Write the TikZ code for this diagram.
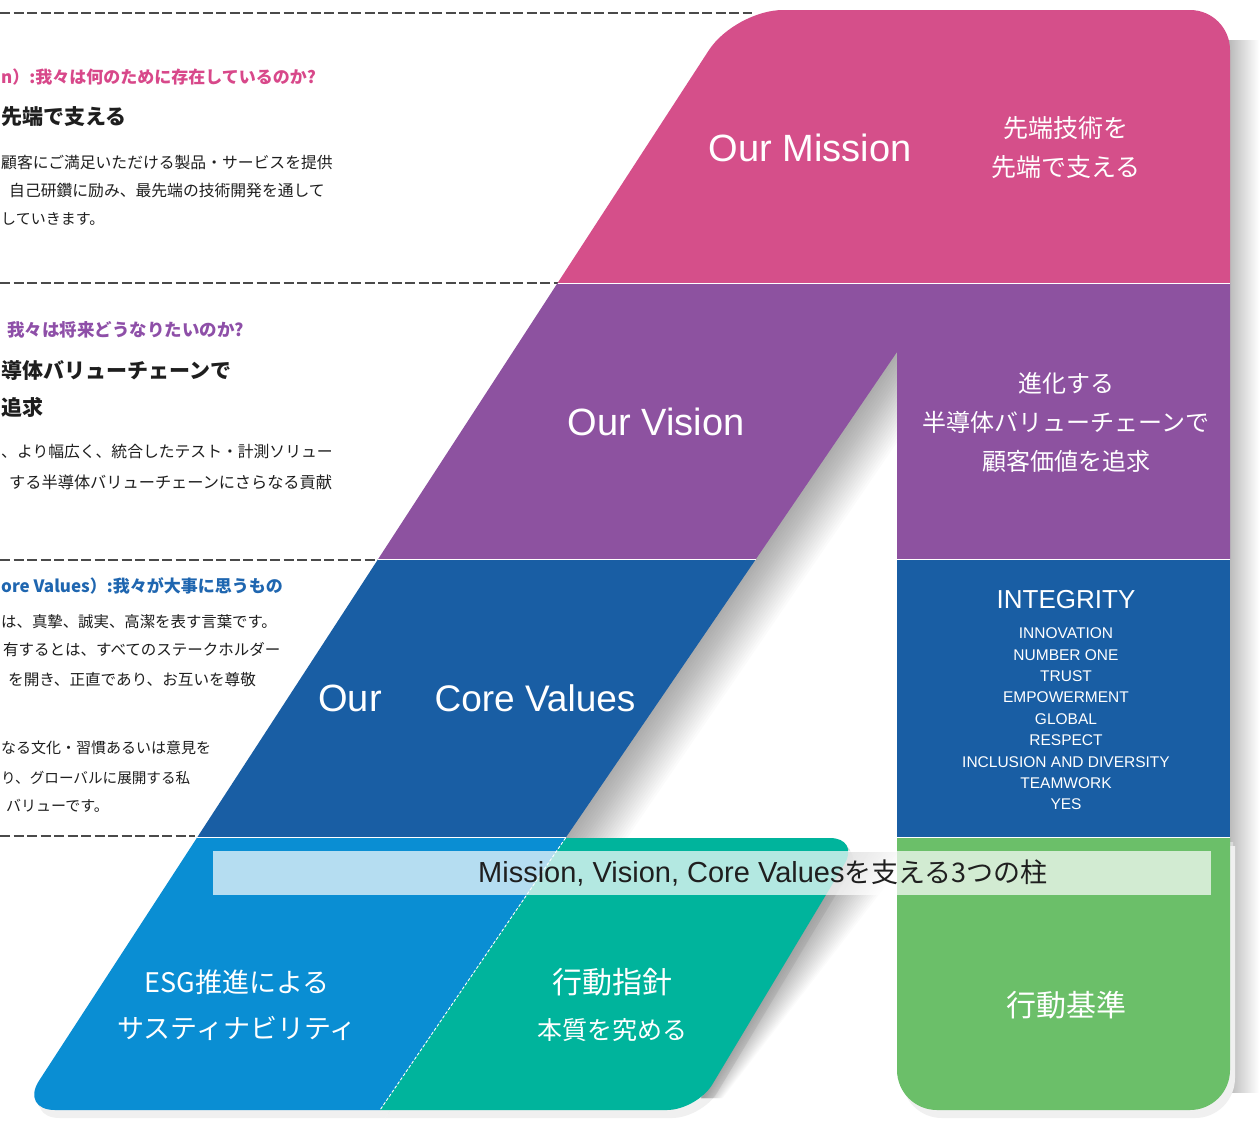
\documentclass[tikz,border=0pt]{standalone}
\usepackage{fontspec}
\setmainfont{Liberation Sans}
\newfontfamily\jp{Noto Sans CJK JP}
\newfontfamily\lsans{Liberation Sans}
\definecolor{cpink}{HTML}{D54F8A}
\definecolor{cpurple}{HTML}{8D52A0}
\definecolor{cdblue}{HTML}{195EA4}
\definecolor{cesg}{HTML}{0A8ED3}
\definecolor{cteal}{HTML}{00B49C}
\definecolor{cgreen}{HTML}{6BBF69}
\definecolor{cdash}{HTML}{4A4A4A}
\definecolor{ctext}{HTML}{1E1E1E}
\definecolor{hpink}{HTML}{D8488A}
\definecolor{hpurple}{HTML}{8E4FA8}
\definecolor{hblue}{HTML}{1F66B0}
\newcommand{\fsz}[2]{\fontsize{#1}{#2}\selectfont}
\begin{document}
\begin{tikzpicture}[x=1pt,y=-1pt,
  dashline/.style={cdash, line width=2pt, dash pattern=on 10pt off 3.5pt},
  lefttxt/.style={anchor=west, inner sep=0pt, text=ctext, font={\jp\fsz{15.8}{16}}},
  lefthead/.style={anchor=west, inner sep=0pt, font={\jp\bfseries\fsz{17}{17}}},
  leftbig/.style={anchor=west, inner sep=0pt, text=ctext, font={\jp\bfseries\fsz{21}{21}}},
  wtxt/.style={text=white, inner sep=0pt, align=center},
  sepline/.style={white, line width=1.6pt},
  shadowpiece/.style={black, opacity=0.017},
]
\useasboundingbox (0,0) rectangle (1259,1120);
\clip (0,0) rectangle (1259,1120);
\fill[white] (0,0) rectangle (1259,1120);

% dashed separators on the left
\draw[dashline] (0,13) -- (752,13);
\draw[dashline] (0,283) -- (560,283);
\draw[dashline] (0,560) -- (380,560);
\draw[dashline] (0,836) -- (195,836);

% left column texts
\node[lefthead, text=hpink] (h1) at (1,77) {n）:我々は何のために存在しているのか?};
\node[leftbig] (b1) at (1,117) {先端で支える};
\node[lefttxt] (t11) at (1,162) {顧客にご満足いただける製品・サービスを提供};
\node[lefttxt] (t12) at (9,191) {自己研鑽に励み、最先端の技術開発を通して};
\node[lefttxt, font={\jp\fsz{15}{16}}] (t13) at (1,219) {していきます。};

\node[lefthead, text=hpurple, font={\jp\bfseries\fsz{17.5}{18}}] (h2) at (7,330) {我々は将来どうなりたいのか?};
\node[leftbig] (b2) at (1,370) {導体バリューチェーンで};
\node[leftbig] (b3) at (1,407) {追求};
\node[lefttxt] (t21) at (1,452) {、より幅広く、統合したテスト・計測ソリュー};
\node[lefttxt, font={\jp\fsz{16.2}{16}}] (t22) at (9,482) {する半導体バリューチェーンにさらなる貢献};

\node[lefthead, text=hblue] (h3) at (1,586) {ore Values）:我々が大事に思うもの};
\node[lefttxt, font={\jp\fsz{15.4}{16}}] (t31) at (1,622) {は、真摯、誠実、高潔を表す言葉です。};
\node[lefttxt, font={\jp\fsz{15.5}{16}}] (t32) at (3,650) {有するとは、すべてのステークホルダー};
\node[lefttxt, font={\jp\fsz{15.6}{16}}] (t33) at (8,680) {を開き、正直であり、お互いを尊敬};
\node[lefttxt, font={\jp\fsz{15}{16}}] (t34) at (1,748) {なる文化・習慣あるいは意見を};
\node[lefttxt, font={\jp\fsz{14.6}{16}}] (t35) at (1,778) {り、グローバルに展開する私};
\node[lefttxt, font={\jp\fsz{15}{16}}] (t36) at (6,806) {バリューです。};

% shadows
\shade[left color=black!28, right color=white] (1228,40) rectangle (1259,1092);
\begin{scope}[shift={(3,4)}]
  \fill[black!14] (196.8,838) -- (565.5,838) -- (380,1110) [rounded corners=35pt] -- (20,1110) [sharp corners] -- cycle;
  \fill[black!14] (565.5,838) [rounded corners=30pt] -- (860,838) -- (697,1110) [sharp corners] -- (380,1110) -- cycle;
  \fill[black!14] (897,838) -- (1230,838) [rounded corners=40pt] -- (1230,1110) -- (897,1110) [sharp corners] -- cycle;
\end{scope}
\begin{scope}[shift={(5,8)}]
  \fill[black!6] (196.8,838) -- (565.5,838) -- (380,1110) [rounded corners=35pt] -- (20,1110) [sharp corners] -- cycle;
  \fill[black!6] (565.5,838) [rounded corners=30pt] -- (860,838) -- (697,1110) [sharp corners] -- (380,1110) -- cycle;
  \fill[black!6] (897,838) -- (1230,838) [rounded corners=40pt] -- (1230,1110) -- (897,1110) [sharp corners] -- cycle;
\end{scope}
\foreach \i in {1,...,22} {
  \fill[shadowpiece] (895,352) -- (563.5,838) -- (565.5+2.8*\i,838) -- (897+2.8*\i,352) -- cycle;
}
\foreach \i in {1,...,22} {
  \fill[shadowpiece] (848,852) -- (701,1098) -- (703+0.9*\i,1098) -- (850+2.8*\i,852) -- cycle;
}

% colored shapes
\fill[cpink] (557.6,283) [rounded corners=48pt] -- (735,10) [rounded corners=40pt] -- (1230,10) [sharp corners] -- (1230,283) -- cycle;
\fill[cpurple] (557.6,283) -- (1230,283) -- (1230,559) -- (897,559) -- (897,352) -- (756,559) -- (378.2,559) -- cycle;
\fill[cdblue] (378.2,559) -- (756,559) -- (565.5,838) -- (196.8,838) -- cycle;
\fill[cdblue] (897,559) rectangle (1230,838);
\fill[cesg] (196.8,838) -- (565.5,838) -- (380,1110) [rounded corners=35pt] -- (20,1110) [sharp corners] -- cycle;
\fill[cteal] (565.5,838) [rounded corners=30pt] -- (860,838) -- (697,1110) [sharp corners] -- (380,1110) -- cycle;
\fill[cgreen] (897,838) -- (1230,838) [rounded corners=40pt] -- (1230,1110) -- (897,1110) [sharp corners] -- cycle;

% separator lines
\draw[sepline] (557.6,283.5) -- (1230,283.5);
\draw[sepline] (378.2,559.5) -- (756,559.5);
\draw[sepline] (897,559.5) -- (1230,559.5);
\draw[sepline] (196.8,837.5) -- (565.5,837.5);
\draw[sepline] (897,837.5) -- (1230,837.5);
\draw[white, line width=0.9pt, dash pattern=on 3pt off 2pt] (565.5,838) -- (380,1110);

% shape texts
\node[wtxt, font={\lsans\fsz{38}{40}}] (mis) at (810,148) {Our Mission};
\node[wtxt, font={\jp\fsz{25}{39}}] (misj) at (1066,148) {先端技術を\\先端で支える};
\node[wtxt, font={\lsans\fsz{38}{40}}] (vis) at (656,422) {Our Vision};
\node[wtxt, font={\jp\fsz{24}{39}}] (visj) at (1066,422) {進化する\\半導体バリューチェーンで\\顧客価値を追求};
\node[wtxt, font={\lsans\fsz{38}{40}}] (our) at (350,698) {Our};
\node[wtxt, font={\lsans\fsz{37}{40}}] (cv) at (535,698) {Core Values};
\node[wtxt, font={\lsans\fsz{26}{28}}] (integ) at (1066,600) {INTEGRITY};
\node[wtxt, font={\lsans\fsz{15.5}{21.4}}] (vals) at (1066,719) {INNOVATION\\NUMBER ONE\\TRUST\\EMPOWERMENT\\GLOBAL\\RESPECT\\INCLUSION AND DIVERSITY\\TEAMWORK\\YES};

% translucent band
\fill[white, opacity=0.7] (213,851) rectangle (1211,895);
\node[inner sep=0pt, text=black!88] (band) at (763,873) {{\lsans\fsz{29}{30}Mission, Vision, Core Values}{\jp\fsz{27}{30}を支える3つの柱}};

\node[wtxt, font={\jp\fsz{27}{46}}] (esg) at (237,1005) {ESG推進による\\サスティナビリティ};
\node[wtxt, font={\jp\fsz{30}{32}}] (kodo) at (612,982) {行動指針};
\node[wtxt, font={\jp\fsz{25}{27}}] (honshitsu) at (612,1030) {本質を究める};
\node[wtxt, font={\jp\fsz{30}{32}}] (kijun) at (1066,1005) {行動基準};
\end{tikzpicture}
\end{document}
